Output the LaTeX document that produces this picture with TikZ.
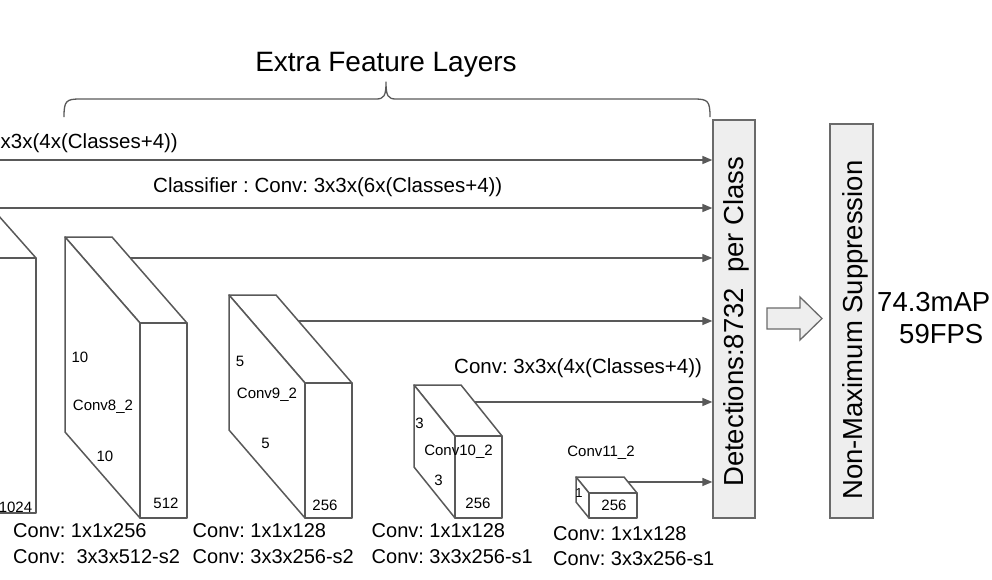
\documentclass[tikz,border=0pt]{standalone}
\usepackage{fontspec}
\setmainfont{Liberation Sans}
\usetikzlibrary{arrows.meta,calc}
\frenchspacing
\definecolor{linegray}{HTML}{595959}
\definecolor{boxgray}{HTML}{6A6A6A}
\definecolor{boxfill}{HTML}{EEEEEE}
\newcommand\fs[1]{\fontsize{#1}{#1}\selectfont}
\newcommand\ssdcube[7]{%
  \pgfmathsetmacro\cbx{#2}\pgfmathsetmacro\cby{#3}%
  \pgfmathsetmacro\cbxr{#2+#4}\pgfmathsetmacro\cfx{#2+#5}%
  \pgfmathsetmacro\cfxr{#2+#5+#4}\pgfmathsetmacro\cfy{#3+#6}%
  \pgfmathsetmacro\cbb{#7-#6}%
  \coordinate (#1btl) at (\cbx,\cby);
  \coordinate (#1btr) at (\cbxr,\cby);
  \coordinate (#1ftl) at (\cfx,\cfy);
  \coordinate (#1ftr) at (\cfxr,\cfy);
  \coordinate (#1fbl) at (\cfx,#7);
  \coordinate (#1fbr) at (\cfxr,#7);
  \coordinate (#1bbl) at (\cbx,\cbb);
  \filldraw[cubeface] (#1btl) -- (#1btr) -- (#1ftr) -- (#1ftl) -- cycle;
  \filldraw[cubeface] (#1btl) -- (#1ftl) -- (#1fbl) -- (#1bbl) -- cycle;
  \filldraw[cubeface] (#1ftl) rectangle (#1fbr);
}
\begin{document}
\begin{tikzpicture}[x=1pt,y=-1pt,
  ln/.style={draw=linegray,line width=1.5pt,line join=round},
  arr/.style={ln,-{Triangle[length=10pt,width=8pt]}},
  cubeface/.style={ln,fill=white},
  txt/.style={inner sep=0pt,text=black},
  small/.style={txt,font=\fs{15}},
  mid/.style={txt,font=\fs{20.5}},
  bot/.style={txt,font=\fs{20},anchor=base west},
  big/.style={txt,font=\fs{27.5}},
  graybox/.style={draw=boxgray,line width=1.3pt,fill=boxfill,inner sep=0pt}]
\useasboundingbox (0,0) rectangle (992,579);

% title and brace
\node[txt,font=\fs{28},anchor=base] (title) at (386,71.5) {Extra Feature Layers};
\coordinate (brL) at (64,117);
\coordinate (brR) at (710,117);
\coordinate (brT) at (386,82);
\draw[ln,line width=1.3pt] (brL) .. controls (64,101) and (66,99) .. (80,99) -- (376,99)
  .. controls (384,99) and (386,96) .. (brT)
  .. controls (386,96) and (388,99) .. (396,99) -- (694,99)
  .. controls (708,99) and (710,101) .. (brR);

% output boxes
\node[graybox,minimum width=42pt,minimum height=398pt] (det) at (734,319) {};
\node[big,rotate=90,anchor=base west] (dett) at (743,487) {Detections:8732\ \ per Class};
\node[graybox,minimum width=43pt,minimum height=394pt] (nms) at (851.5,321) {};
\node[big,rotate=90,anchor=base west] (nmst) at (862,500) {Non-Maximum Suppression};
\node[big,anchor=base west] (map) at (877,311.5) {74.3mAP};
\node[big,anchor=base west] (fps) at (899,343) {59FPS};

% block arrow
\filldraw[draw=boxgray,line width=1.3pt,fill=boxfill,line join=miter]
  (767,308) -- (800,308) -- (800,297) -- (822,318.5) -- (800,340) -- (800,329) -- (767,329) -- cycle;

% partial conv7 box
\filldraw[cubeface] (-10,258) -- (36,258) -- (36,513) -- (-10,513);
\draw[ln] (-10,206) -- (36,258);
\node[small,anchor=center] (c7n) at (15.5,507) {1024};

% cubes
\ssdcube{c8}{65}{237}{47}{75}{86}{518}
\ssdcube{c9}{229}{295}{47}{76}{88}{518}
\ssdcube{c10}{414}{385}{47}{41}{51}{518}
\ssdcube{c11}{576}{477}{48}{13}{16}{518}

% cube labels
\node[small] (c8a) at (80,357) {10};
\node[small] (c8n) at (103,407) {Conv8\_2};
\node[small] (c8b) at (105,456) {10};
\node[small] (c8c) at (166,503) {512};
\node[small] (c9a) at (240,361) {5};
\node[small] (c9n) at (267,395) {Conv9\_2};
\node[small] (c9b) at (265.5,443) {5};
\node[small] (c9c) at (325,505.5) {256};
\node[small] (c10a) at (419.5,423) {3};
\node[small] (c10n) at (458.5,452) {Conv10\_2};
\node[small] (c10b) at (438.5,480) {3};
\node[small] (c10c) at (478,503.5) {256};
\node[small] (c11n) at (601,452.5) {Conv11\_2};
\node[small,font=\fs{13}] (c11a) at (579,493) {1};
\node[small] (c11c) at (614,505.5) {256};

% connectors
\coordinate (s1) at (-5,160);
\coordinate (s2) at (-5,208);
\coordinate (s8) at ($(c8btr)!0.244!(c8ftr)$);
\coordinate (s9) at ($(c9btr)!0.295!(c9ftr)$);
\coordinate (s10) at ($(c10btr)!0.333!(c10ftr)$);
\coordinate (s11) at ($(c11btr)!0.31!(c11ftr)$);
\foreach \s in {s1,s2,s8,s9,s10,s11}
  \draw[arr] (\s) -- (\s -| det.west);

% connector labels
\node[mid,anchor=base west] (l1) at (0.5,148) {x3x(4x(Classes+4))};
\node[mid,anchor=base west] (l2) at (153,192) {Classifier : Conv: 3x3x(6x(Classes+4))};
\node[mid,anchor=base west] (l10) at (454,373.5) {Conv: 3x3x(4x(Classes+4))};

% bottom labels
\node[bot] (b8a) at (13,537.7) {Conv: 1x1x256};
\node[bot] (b8b) at (13,563) {Conv:\ \ 3x3x512-s2};
\node[bot] (b9a) at (192.5,537.7) {Conv: 1x1x128};
\node[bot] (b9b) at (192.5,563) {Conv: 3x3x256-s2};
\node[bot] (b10a) at (371.5,537.7) {Conv: 1x1x128};
\node[bot] (b10b) at (371.5,563) {Conv: 3x3x256-s1};
\node[bot] (b11a) at (553,540) {Conv: 1x1x128};
\node[bot] (b11b) at (553,565) {Conv: 3x3x256-s1};
\end{tikzpicture}
\end{document}
